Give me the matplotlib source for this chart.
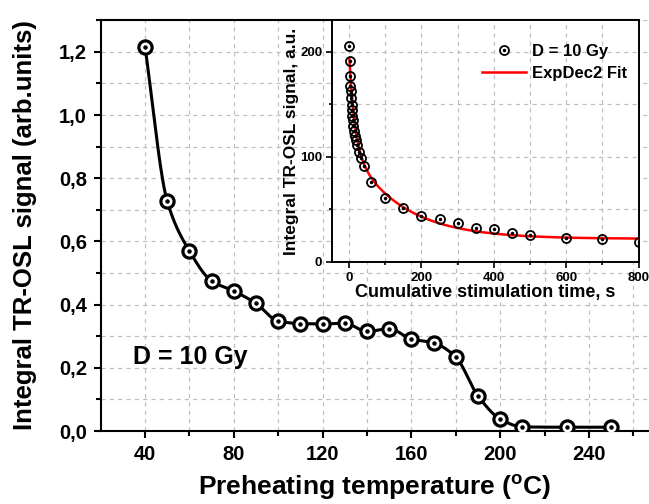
import numpy as np
import matplotlib
matplotlib.use('Agg')
import matplotlib.pyplot as plt
from matplotlib.ticker import MultipleLocator, FuncFormatter

plt.rcParams.update({
    'font.family': ['Liberation Sans', 'DejaVu Sans'],
    'font.weight': 'bold',
    'axes.labelweight': 'bold',
    'mathtext.fontset': 'custom',
    'mathtext.rm': 'Liberation Sans:bold',
    'mathtext.bf': 'Liberation Sans:bold',
    'grid.color': '#c0c0c0',
    'grid.linestyle': '--',
    'grid.linewidth': 0.9,
    'lines.scale_dashes': False,
    'lines.dashed_pattern': (3, 3),
})

# main panel: integral TR-OSL vs preheat temperature
temp_c = [40, 50, 60, 70, 80, 90, 100, 110, 120, 130, 140, 150, 160, 170,
          180, 190, 200, 210, 230, 250]
signal = [1.217, 0.728, 0.570, 0.475, 0.443, 0.404, 0.348, 0.340, 0.339, 0.341,
          0.315, 0.324, 0.291, 0.279, 0.234, 0.111, 0.038, 0.013, 0.012, 0.012]

# inset: integral signal vs cumulative stimulation time
stim_t = [1, 2, 3, 4, 5, 6, 7, 8, 9, 10, 12, 14, 16, 19, 23, 28, 33, 42, 60,
          100, 150, 200, 250, 300, 350, 400, 450, 500, 600, 700, 800]
stim_sig = [205.7, 190.8, 176.5, 167.6, 162.9, 155.9, 149.5, 144.8, 139.0, 135.2,
            128.9, 124.1, 119.4, 115.6, 111.4, 105.0, 98.7, 90.8, 75.9,
            60.6, 51.1, 43.8, 40.6, 36.8, 32.0, 31.0, 27.9, 25.7, 22.9, 21.6, 18.8]

# ExpDec2 fit parameters: y = A1*exp(-x/t1) + A2*exp(-x/t2) + y0
fit_y0, fit_A1, fit_t1, fit_A2, fit_t2 = 22.0, 90.0, 15.0, 87.8, 140.0


def smooth_curve(x, y, n=30):
    """monotone cubic hermite through the points (Fritsch-Carlson)"""
    x = np.asarray(x, float)
    y = np.asarray(y, float)
    h = np.diff(x)
    d = np.diff(y) / h
    m = np.zeros_like(y)
    m[0], m[-1] = d[0], d[-1]
    for i in range(1, len(y) - 1):
        if d[i - 1] * d[i] > 0:
            w1 = 2 * h[i] + h[i - 1]
            w2 = h[i] + 2 * h[i - 1]
            m[i] = (w1 + w2) / (w1 / d[i - 1] + w2 / d[i])
    xs, ys = [], []
    for i in range(len(h)):
        s = np.linspace(0, 1, n)
        h00 = 2 * s**3 - 3 * s**2 + 1
        h10 = s**3 - 2 * s**2 + s
        h01 = -2 * s**3 + 3 * s**2
        h11 = s**3 - s**2
        xs.append(x[i] + s * h[i])
        ys.append(h00 * y[i] + h10 * h[i] * m[i] + h01 * y[i + 1] + h11 * h[i] * m[i + 1])
    return np.concatenate(xs), np.concatenate(ys)


def dashed_grid(a):
    # gridlines at major and minor tick positions, under the data
    a.set_axisbelow(True)
    a.grid(True, which='both')


fig = plt.figure(figsize=(6.49, 5.04), dpi=100)

# ----- main axes -----
ax = fig.add_axes([101 / 649, 73 / 504, 548 / 649, 411 / 504])
ax.set_xlim(20.2, 267)
ax.set_ylim(0, 1.301)
ax.xaxis.set_major_locator(MultipleLocator(40))
ax.xaxis.set_minor_locator(MultipleLocator(20))
ax.yaxis.set_major_locator(MultipleLocator(0.2))
ax.yaxis.set_minor_locator(MultipleLocator(0.1))
ax.yaxis.set_major_formatter(FuncFormatter(lambda v, p: f'{v:.1f}'.replace('.', ',')))
ax.spines['right'].set_visible(False)
ax.spines['top'].set_bounds(20.2, 262.5)
for sp in ax.spines.values():
    sp.set_linewidth(1.5)
ax.tick_params(which='major', direction='out', length=5, width=1.5, labelsize=14.5, pad=5)
ax.tick_params(which='minor', direction='out', length=3.5, width=1.5)
ax.tick_params(which='both', top=False, right=False)
dashed_grid(ax)

sx, sy = smooth_curve(temp_c, signal)
ax.plot(sx, sy, color='black', lw=2.2, zorder=3)
ax.plot(temp_c, signal, 'o', ms=9.5, mfc='white', mec='black', mew=2.3, zorder=4)
ax.plot(temp_c, signal, 'o', ms=2.2, color='black', zorder=5)
ax.text(34.5, 0.235, 'D = 10 Gy', fontsize=18, fontweight='bold', ha='left', va='center')

ax.set_xlabel(r'Preheating temperature ($^{\mathbf{o}}$C)', fontsize=19, labelpad=6)
ax.set_ylabel('Integral TR-OSL signal (arb.units)', fontsize=18.5, labelpad=16)

# ----- inset -----
ins = fig.add_axes([332 / 649, 242 / 504, 307 / 649, 242 / 504])
ins.set_facecolor('white')
ins.set_xlim(-47, 801)
ins.set_ylim(0, 230)
ins.xaxis.set_major_locator(MultipleLocator(200))
ins.xaxis.set_minor_locator(MultipleLocator(100))
ins.yaxis.set_major_locator(MultipleLocator(100))
ins.yaxis.set_minor_locator(MultipleLocator(50))
for sp in ins.spines.values():
    sp.set_linewidth(1.4)
ins.tick_params(which='major', direction='out', length=4, width=1.2, labelsize=9.5, pad=3)
ins.tick_params(which='minor', direction='out', length=2.5, width=1.2)
dashed_grid(ins)

ins.plot(stim_t, stim_sig, 'o', ms=6.5, mfc='none', mec='black', mew=1.3, zorder=4)
ins.plot(stim_t, stim_sig, 'o', ms=1.5, color='black', zorder=5)
fit_x = np.linspace(1, 800, 400)
fit_y = fit_A1 * np.exp(-fit_x / fit_t1) + fit_A2 * np.exp(-fit_x / fit_t2) + fit_y0
ins.plot(fit_x, fit_y, color='#ff0000', lw=1.8, zorder=3)

h_pt, = ins.plot([], [], 'o', ms=6.5, mfc='white', mec='black', mew=1.3)
h_dot, = ins.plot([], [], 'o', ms=1.5, color='black')
h_fit, = ins.plot([], [], color='#ff0000', lw=1.8)
ins.legend([(h_pt, h_dot), h_fit], ['D = 10 Gy', 'ExpDec2 Fit'], loc='upper right',
           bbox_to_anchor=(1.0, 0.95), frameon=False,
           prop={'weight': 'bold', 'size': 12}, handlelength=2.6,
           handletextpad=0.4, borderaxespad=0.3, labelspacing=0.45)

ins.set_xlabel('Cumulative stimulation time, s', fontsize=13, labelpad=0)
ins.set_ylabel('Integral TR-OSL signal, a.u.', fontsize=12.5, labelpad=1)

fig.savefig('out.png', dpi=100)
